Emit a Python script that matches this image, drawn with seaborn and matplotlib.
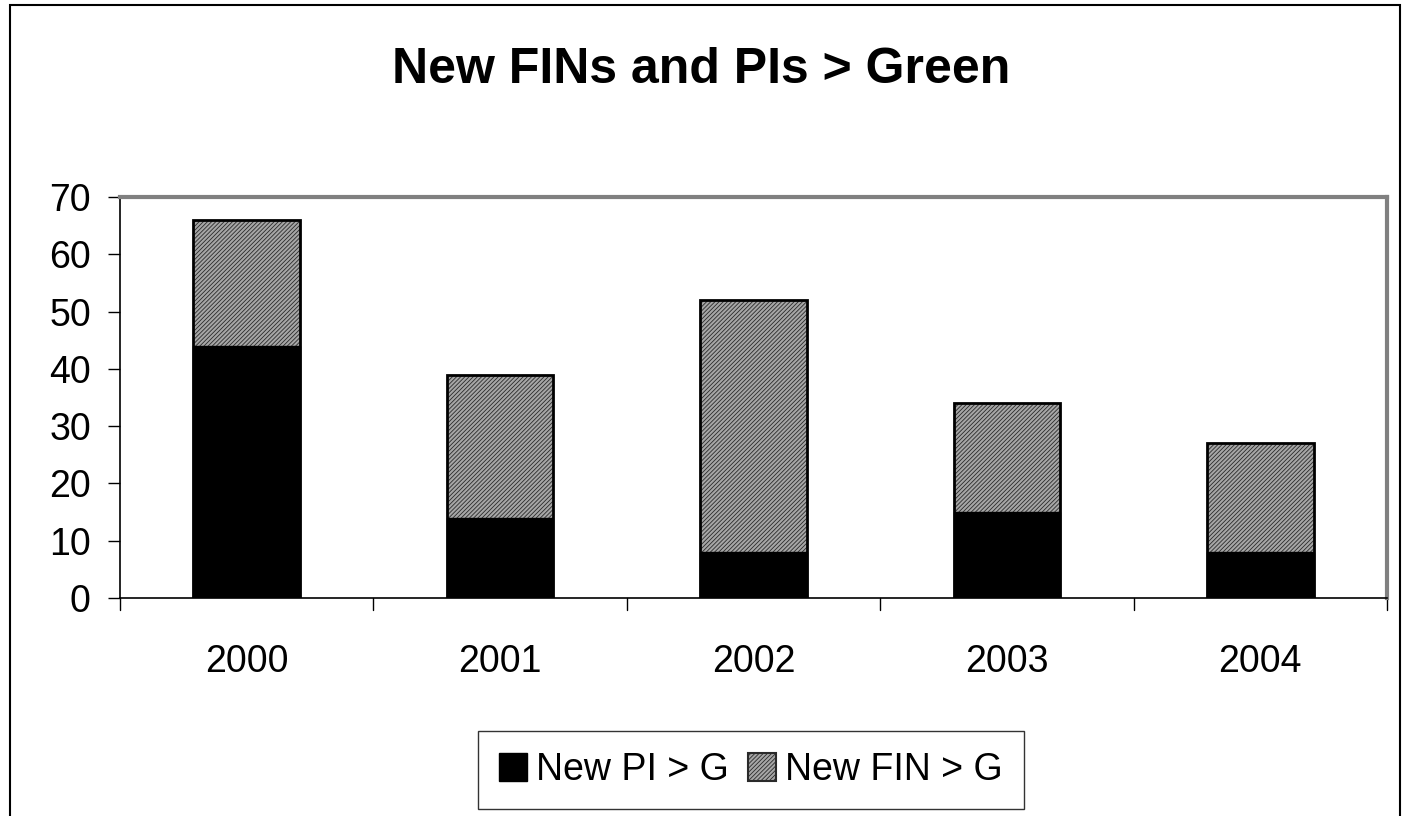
import pandas as pd
import seaborn as sns
import matplotlib.pyplot as plt
from matplotlib.patches import Rectangle

years = ["2000", "2001", "2002", "2003", "2004"]
new_pi = [44, 14, 8, 15, 8]
new_fin = [22, 25, 44, 19, 19]

df = pd.DataFrame({"year": years, "pi": new_pi, "fin": new_fin})
df["total"] = df["pi"] + df["fin"]

sns.set_style("white")
plt.rcParams["font.family"] = ["Liberation Sans", "DejaVu Sans"]
plt.rcParams["text.color"] = "black"
plt.rcParams["xtick.color"] = "black"
plt.rcParams["ytick.color"] = "black"
plt.rcParams["hatch.linewidth"] = 0.6

fill_grey = "#a6a6a6"
hatch_col = "#2a2a2a"

fig = plt.figure(figsize=(14.03, 8.16), dpi=100)
ax = fig.add_axes([120 / 1403, 1 - 598 / 816, (1387 - 120) / 1403, (598 - 197) / 816])

# hatched FIN part drawn as full stack, PI overlaid from zero
sns.barplot(data=df, x="year", y="total", ax=ax, color=fill_grey, width=0.42,
            edgecolor=hatch_col, linewidth=0, hatch="////////", saturation=1)
n = len(ax.patches)
sns.barplot(data=df, x="year", y="pi", ax=ax, color="black", width=0.42,
            edgecolor="black", linewidth=1, saturation=1)
# outline the stacked bars in solid black
for p in ax.patches[:n]:
    ax.add_patch(Rectangle(p.get_xy(), p.get_width(), p.get_height(),
                           fill=False, edgecolor="black", linewidth=2, zorder=3))

ax.set_ylim(0, 70)
ax.set_xlim(-0.5, 4.5)
ax.set_yticks(range(0, 71, 10))
ax.set_xlabel("")
ax.set_ylabel("")
ax.tick_params(axis="both", labelsize=27, length=9, width=1,
               direction="out", left=True, bottom=False)
ax.tick_params(axis="y", pad=12)
ax.tick_params(axis="x", pad=24)
for x in [-0.5, 0.5, 1.5, 2.5, 3.5, 4.5]:
    ax.plot([x, x], [0, -0.03], transform=ax.get_xaxis_transform(),
            color="black", lw=1, clip_on=False)

for side in ["top", "right"]:
    ax.spines[side].set_color("#808080")
    ax.spines[side].set_linewidth(3)
for side in ["left", "bottom"]:
    ax.spines[side].set_color("black")
    ax.spines[side].set_linewidth(1.2)

fig.text(0.5, 1 - 70 / 816, "New FINs and PIs > Green", ha="center", va="center",
         fontsize=36, fontweight="bold")

handles = [Rectangle((0, 0), 1, 1, facecolor="black", edgecolor="black"),
           Rectangle((0, 0), 1, 1, facecolor=fill_grey, edgecolor=hatch_col,
                     hatch="////////", linewidth=1.5)]
leg = fig.legend(handles, ["New PI > G", "New FIN > G"], loc="center",
                 bbox_to_anchor=(751 / 1403, 1 - 770 / 816), ncol=2, fontsize=27,
                 frameon=True, fancybox=False, handlelength=0.75, handleheight=0.75,
                 handletextpad=0.25, columnspacing=0.5, borderpad=0.55,
                 borderaxespad=0)
leg.get_frame().set_edgecolor("black")
leg.get_frame().set_linewidth(1)

fig.add_artist(Rectangle((10 / 1403, -0.1), (1400 - 10) / 1403, 1.1 - 5 / 816,
                         transform=fig.transFigure, fill=False,
                         edgecolor="black", linewidth=1.5))

fig.savefig("out.png", dpi=100)
